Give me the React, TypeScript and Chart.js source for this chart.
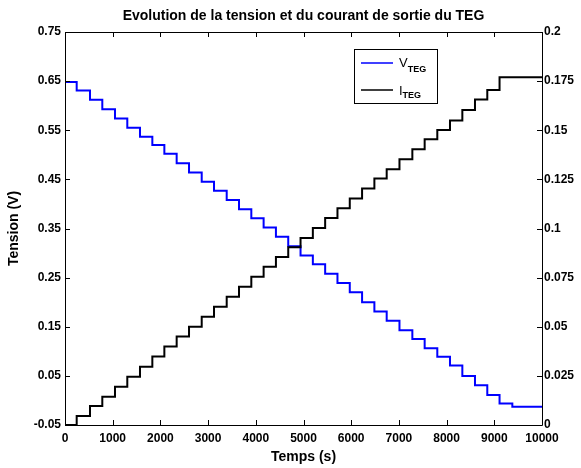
import React, { useEffect, useRef } from "react";
import { Chart, registerables } from "chart.js";

Chart.register(...registerables);

// ---- Data ----
const stepTimes = [
  245, 524, 782, 1048, 1306, 1572, 1831, 2083, 2341, 2600, 2866, 3124, 3390,
  3648, 3906, 4164, 4422, 4680, 4938, 5196, 5454, 5712, 5970, 6228, 6486, 6744,
  7012, 7282, 7540, 7805, 8071, 8330, 8595, 8853, 9110,
];
const voltageLevels = [
  0.648, 0.631, 0.612, 0.593, 0.574, 0.555, 0.537, 0.52, 0.502, 0.483, 0.464,
  0.445, 0.427, 0.408, 0.389, 0.371, 0.352, 0.333, 0.314, 0.295, 0.277, 0.258,
  0.239, 0.22, 0.2, 0.181, 0.162, 0.143, 0.125, 0.106, 0.089, 0.071, 0.05,
  0.031, 0.011, -0.006,
];
const voltageTailTime = 9378;
const voltageTailLevel = -0.013;
const currentLevels = [
  0, 0.0046, 0.0097, 0.0144, 0.0195, 0.0246, 0.0297, 0.0348, 0.0399, 0.045,
  0.05, 0.0551, 0.0602, 0.0653, 0.0704, 0.0755, 0.0805, 0.0855, 0.0905, 0.0952,
  0.1003, 0.1053, 0.1103, 0.1153, 0.1204, 0.1255, 0.1301, 0.1352, 0.1403,
  0.1454, 0.1501, 0.1549, 0.1603, 0.1657, 0.1705, 0.177,
];
const timeEnd = 10000;

const xTickValues = [0, 1000, 2000, 3000, 4000, 5000, 6000, 7000, 8000, 9000, 10000];
const leftTickValues = [-0.05, 0.05, 0.15, 0.25, 0.35, 0.45, 0.55, 0.65, 0.75];
const leftTickLabels = ["-0.05", "0.05", "0.15", "0.25", "0.35", "0.45", "0.55", "0.65", "0.75"];
const rightTickValues = [0, 0.025, 0.05, 0.075, 0.1, 0.125, 0.15, 0.175, 0.2];
const rightTickLabels = ["0", "0.025", "0.05", "0.075", "0.1", "0.125", "0.15", "0.175", "0.2"];

const chartTitle = "Evolution de la tension et du courant de sortie du TEG";
const xTitle = "Temps (s)";
const yTitle = "Tension (V)";
const legendMain = ["V", "I"];
const legendSub = "TEG";

const FONT = "'Liberation Sans', Arial, Helvetica, sans-serif";

function buildVoltage() {
  const pts: { x: number; y: number }[] = [{ x: 0, y: voltageLevels[0] }];
  stepTimes.forEach((t, i) => pts.push({ x: t, y: voltageLevels[i + 1] }));
  pts.push({ x: voltageTailTime, y: voltageTailLevel });
  pts.push({ x: timeEnd, y: voltageTailLevel });
  return pts;
}
function buildCurrent() {
  const pts: { x: number; y: number }[] = [{ x: 0, y: currentLevels[0] }];
  stepTimes.forEach((t, i) => pts.push({ x: t, y: currentLevels[i + 1] }));
  pts.push({ x: timeEnd, y: currentLevels[currentLevels.length - 1] });
  return pts;
}

const framePlugin = {
  id: "matlabFrame",
  afterDraw(chart: any) {
    const { ctx, chartArea: a, scales } = chart;
    ctx.save();
    ctx.strokeStyle = "#000";
    ctx.lineWidth = 1;
    ctx.beginPath();
    ctx.rect(Math.round(a.left) + 0.5, Math.round(a.top) + 0.5, Math.round(a.right - a.left), Math.round(a.bottom - a.top));
    ctx.stroke();
    const tl = 5;
    ctx.beginPath();
    xTickValues.forEach((v) => {
      const px = Math.round(scales.x.getPixelForValue(v)) + 0.5;
      ctx.moveTo(px, a.bottom);
      ctx.lineTo(px, a.bottom - tl);
      ctx.moveTo(px, a.top);
      ctx.lineTo(px, a.top + tl);
    });
    leftTickValues.forEach((v) => {
      const py = Math.round(scales.y.getPixelForValue(v)) + 0.5;
      ctx.moveTo(a.left, py);
      ctx.lineTo(a.left + tl, py);
    });
    rightTickValues.forEach((v) => {
      const py = Math.round(scales.y1.getPixelForValue(v)) + 0.5;
      ctx.moveTo(a.right, py);
      ctx.lineTo(a.right - tl, py);
    });
    ctx.stroke();

    // titles
    ctx.fillStyle = "#000";
    ctx.font = `bold 14px ${FONT}`;
    ctx.textAlign = "center";
    ctx.textBaseline = "middle";
    ctx.fillText(chartTitle, (a.left + a.right) / 2, 16);
    ctx.fillText(xTitle, (a.left + a.right) / 2, 457);
    ctx.save();
    ctx.translate(14, (a.top + a.bottom) / 2);
    ctx.rotate(-Math.PI / 2);
    ctx.fillText(yTitle, 0, 0);
    ctx.restore();

    // legend
    const bx = 354, by = 49, bw = 83, bh = 54;
    ctx.fillStyle = "#fff";
    ctx.fillRect(bx, by, bw, bh);
    ctx.strokeStyle = "#000";
    ctx.strokeRect(bx + 0.5, by + 0.5, bw, bh);
    const rows = [
      { color: "#0000ff", y: 63, base: 67, sub: 72 },
      { color: "#000000", y: 90, base: 95, sub: 98 },
    ];
    rows.forEach((r, i) => {
      ctx.strokeStyle = r.color;
      ctx.lineWidth = 1.5;
      ctx.beginPath();
      ctx.moveTo(361, r.y);
      ctx.lineTo(393, r.y);
      ctx.stroke();
      ctx.fillStyle = "#000";
      ctx.textAlign = "left";
      ctx.textBaseline = "alphabetic";
      ctx.font = `13px ${FONT}`;
      ctx.fillText(legendMain[i], 399, r.base);
      const w = ctx.measureText(legendMain[i]).width;
      ctx.font = `bold 9px ${FONT}`;
      ctx.fillText(legendSub, 399 + w, r.sub);
    });
    ctx.restore();
  },
};

export default function App() {
  const ref = useRef<HTMLCanvasElement | null>(null);
  useEffect(() => {
    if (!ref.current) return;
    Chart.defaults.color = "#000";
    const tickFont = { family: FONT, size: 12, weight: "bold" as const };
    const chart = new Chart(ref.current, {
      type: "line",
      data: {
        datasets: [
          {
            label: "ITEG",
            data: buildCurrent(),
            yAxisID: "y1",
            borderColor: "#000000",
            borderWidth: 2,
            pointRadius: 0,
            stepped: "before",
            fill: false,
            order: 0,
          },
          {
            label: "VTEG",
            data: buildVoltage(),
            yAxisID: "y",
            borderColor: "#0000ff",
            borderWidth: 2,
            pointRadius: 0,
            stepped: "before",
            fill: false,
            order: 1,
          },
        ],
      },
      options: {
        animation: false,
        responsive: false,
        parsing: false,
        layout: { padding: { top: 32, left: 0, right: 0, bottom: 0 } },
        plugins: { legend: { display: false }, title: { display: false }, tooltip: { enabled: false } },
        scales: {
          x: {
            type: "linear",
            position: "bottom",
            min: 0,
            max: 10000,
            grid: { display: false, drawTicks: false },
            border: { display: false },
            afterBuildTicks: (s: any) => {
              s.ticks = xTickValues.map((v) => ({ value: v }));
            },
            afterFit: (s: any) => {
              s.height = 43;
            },
            ticks: { font: tickFont, padding: 6, maxRotation: 0, autoSkip: false, callback: (v: any) => String(v) },
          },
          y: {
            type: "linear",
            position: "left",
            min: -0.05,
            max: 0.75,
            grid: { display: false, drawTicks: false },
            border: { display: false },
            afterBuildTicks: (s: any) => {
              s.ticks = leftTickValues.map((v) => ({ value: v }));
            },
            afterFit: (s: any) => {
              s.width = 65;
            },
            ticks: { font: tickFont, padding: 4, autoSkip: false, callback: (_v: any, i: number) => leftTickLabels[i] },
          },
          y1: {
            type: "linear",
            position: "right",
            min: 0,
            max: 0.2,
            grid: { display: false, drawTicks: false },
            border: { display: false },
            afterBuildTicks: (s: any) => {
              s.ticks = rightTickValues.map((v) => ({ value: v }));
            },
            afterFit: (s: any) => {
              s.width = 39;
            },
            ticks: { font: tickFont, padding: 2, autoSkip: false, callback: (_v: any, i: number) => rightTickLabels[i] },
          },
        },
      } as any,
      plugins: [framePlugin],
    });
    return () => chart.destroy();
  }, []);
  return (
    <div style={{ position: "absolute", left: 0, top: 0, width: 581, height: 468, background: "#fff" }}>
      <canvas ref={ref} width={581} height={468} style={{ display: "block", width: 581, height: 468 }} />
    </div>
  );
}
